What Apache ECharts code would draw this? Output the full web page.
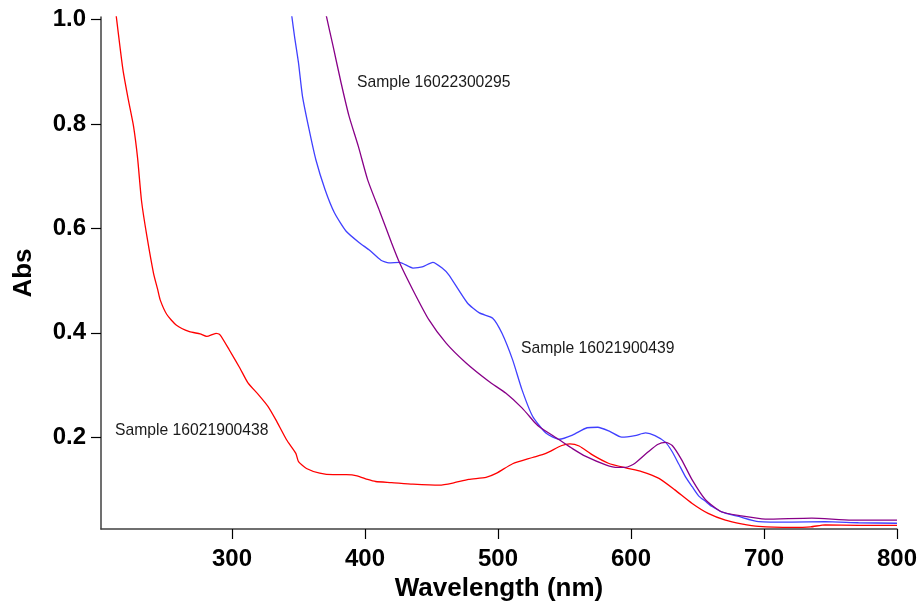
<!DOCTYPE html>
<html>
<head>
<meta charset="utf-8">
<script src="https://cdn.jsdelivr.net/npm/echarts@6/dist/echarts.min.js"></script>
<style>
  html, body { margin: 0; padding: 0; background: #fff; }
  #chart { width: 921px; height: 603px; }
</style>
</head>
<body>
<div id="chart"></div>
<script>
// spectra: [wavelength nm, Abs]
var sample438 = [
  [212, 1.03], [213, 1.006], [218, 0.904], [222, 0.847], [226, 0.795], [229, 0.735], [232, 0.652],
  [236, 0.585], [241, 0.514], [244, 0.484], [246, 0.463], [251, 0.435], [258, 0.415], [268, 0.402],
  [276, 0.398], [281, 0.393], [288, 0.399], [291, 0.396], [298, 0.367], [306, 0.332], [312, 0.304],
  [320, 0.281], [327, 0.259], [333, 0.233], [341, 0.195], [348, 0.169], [350, 0.153], [356, 0.140],
  [366, 0.131], [376, 0.128], [386, 0.128], [394, 0.126], [402, 0.119], [408, 0.115], [420, 0.113],
  [436, 0.110], [456, 0.108], [466, 0.112], [478, 0.119], [491, 0.123], [499, 0.131], [511, 0.149],
  [526, 0.161], [536, 0.169], [548, 0.184], [554, 0.187], [561, 0.183], [571, 0.166], [583, 0.150],
  [596, 0.141], [608, 0.134], [621, 0.121], [633, 0.099], [646, 0.073], [658, 0.054], [671, 0.041],
  [683, 0.034], [696, 0.029], [721, 0.027], [735, 0.028], [746, 0.032], [771, 0.031], [800, 0.031]
];
var sample439 = [
  [344, 1.03], [345, 1.006], [347, 0.968], [350, 0.917], [353, 0.853], [358, 0.789], [363, 0.732],
  [370, 0.674], [377, 0.630], [386, 0.594], [396, 0.572], [403, 0.559], [412, 0.539], [418, 0.534],
  [426, 0.535], [436, 0.524], [443, 0.526], [451, 0.535], [458, 0.524], [463, 0.511], [477, 0.457],
  [486, 0.438], [496, 0.428], [503, 0.399], [511, 0.348], [518, 0.291], [526, 0.240], [536, 0.208],
  [546, 0.196], [556, 0.204], [567, 0.218], [575, 0.219], [584, 0.211], [593, 0.200], [603, 0.203],
  [611, 0.208], [618, 0.203], [626, 0.190], [631, 0.172], [636, 0.148], [641, 0.124], [646, 0.105],
  [651, 0.087], [656, 0.077], [661, 0.067], [668, 0.057], [681, 0.048], [696, 0.038], [721, 0.037],
  [746, 0.038], [771, 0.036], [800, 0.035]
];
var sample295 = [
  [369, 1.03], [371, 1.006], [376, 0.949], [382, 0.879], [388, 0.815], [395, 0.757], [402, 0.693],
  [411, 0.633], [420, 0.572], [426, 0.534], [436, 0.482], [448, 0.425], [461, 0.380], [476, 0.342],
  [493, 0.307], [506, 0.284], [518, 0.256], [528, 0.227], [531, 0.220], [546, 0.195], [556, 0.178],
  [566, 0.163], [581, 0.147], [590, 0.142], [596, 0.142], [603, 0.150], [613, 0.172], [620, 0.186],
  [626, 0.190], [631, 0.184], [638, 0.157], [646, 0.118], [656, 0.080], [668, 0.057], [683, 0.049],
  [701, 0.043], [736, 0.045], [766, 0.041], [800, 0.041]
];
var xTicks = [300, 400, 500, 600, 700, 800];
var yTicks = [0.2, 0.4, 0.6, 0.8, 1.0];

var chart = echarts.init(document.getElementById('chart'), null, { renderer: 'canvas' });

var axisFont = 'Liberation Sans, Arial, sans-serif';

chart.setOption({
  animation: false,
  backgroundColor: '#fff',
  grid: {
    left: 101, right: 24, top: 17, bottom: 74,
    containLabel: false,
    outerBoundsMode: 'none'
  },
  xAxis: {
    type: 'value',
    min: 201.5,
    max: 800,
    name: 'Wavelength (nm)',
    nameLocation: 'middle',
    nameGap: 46,
    nameTextStyle: { fontFamily: axisFont, fontWeight: 'bold', fontSize: 26, color: '#000' },
    axisLine: { show: true, onZero: false, lineStyle: { color: '#404040', width: 1.5 } },
    axisTick: { show: true, inside: false, length: 10, customValues: xTicks, lineStyle: { color: '#000', width: 1.2 } },
    axisLabel: {
      customValues: xTicks,
      margin: 18,
      fontFamily: axisFont, fontWeight: 'bold', fontSize: 24, color: '#000'
    },
    splitLine: { show: false }
  },
  yAxis: {
    type: 'value',
    min: 0.024,
    max: 1.005,
    name: 'Abs',
    nameLocation: 'middle',
    nameGap: 64,
    nameTextStyle: { fontFamily: axisFont, fontWeight: 'bold', fontSize: 26, color: '#000' },
    axisLine: { show: true, onZero: false, lineStyle: { color: '#404040', width: 1.5 } },
    axisTick: { show: true, inside: false, length: 10, customValues: yTicks, lineStyle: { color: '#000', width: 1.2 } },
    axisLabel: {
      customValues: yTicks,
      margin: 15,
      formatter: function (v) { return v.toFixed(1); },
      fontFamily: axisFont, fontWeight: 'bold', fontSize: 24, color: '#000'
    },
    splitLine: { show: false }
  },
  series: [{
    name: 'Sample 16021900438',
    type: 'line',
    data: sample438,
    showSymbol: false,
    smooth: 0.2,
    clip: true,
    lineStyle: { color: '#ff0000', width: 1.3 }
  }, {
    name: 'Sample 16021900439',
    type: 'line',
    data: sample439,
    showSymbol: false,
    smooth: 0.2,
    clip: true,
    lineStyle: { color: '#4040ff', width: 1.3 }
  }, {
    name: 'Sample 16022300295',
    type: 'line',
    data: sample295,
    showSymbol: false,
    smooth: 0.2,
    clip: true,
    lineStyle: { color: '#880088', width: 1.3 }
  }],
  // sample labels sitting inside the plot
  graphic: [{
    type: 'text', left: 357, top: 75,
    style: { text: 'Sample 16022300295', font: '15.7px Liberation Sans, Arial, sans-serif', fill: '#1a1a1a' }
  }, {
    type: 'text', left: 521, top: 341,
    style: { text: 'Sample 16021900439', font: '15.7px Liberation Sans, Arial, sans-serif', fill: '#1a1a1a' }
  }, {
    type: 'text', left: 115, top: 423,
    style: { text: 'Sample 16021900438', font: '15.7px Liberation Sans, Arial, sans-serif', fill: '#1a1a1a' }
  }]
});
</script>
</body>
</html>
